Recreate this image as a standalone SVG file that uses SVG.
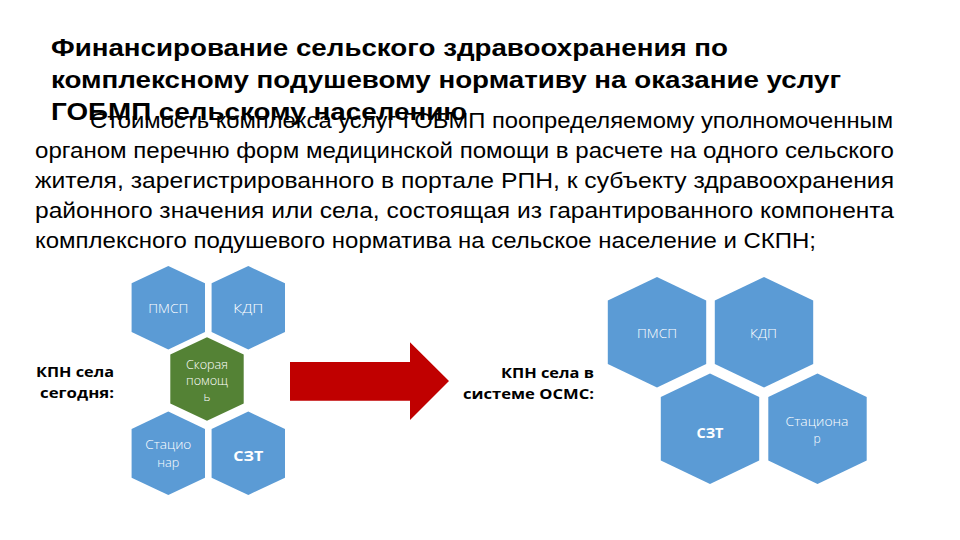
<svg xmlns="http://www.w3.org/2000/svg" xmlns:xlink="http://www.w3.org/1999/xlink" width="960" height="540" viewBox="0 0 960 540">
<style>
.title{font-family:"Liberation Sans",Arial,sans-serif;font-weight:bold;font-size:23.5px;fill:#000}
.body{font-family:"Liberation Sans",Arial,sans-serif;font-size:22px;fill:#000}
.lbl{font-family:"Open Sans","Liberation Sans",sans-serif;font-weight:bold;font-size:15px;fill:#000;text-anchor:end}
.ht{font-family:"Open Sans","Liberation Sans",sans-serif;font-weight:300;font-size:12px;fill:#fff;text-anchor:middle}
.hb{font-family:"Open Sans","Liberation Sans",sans-serif;font-size:15px;font-weight:bold;fill:#fff;text-anchor:middle}
.blue{fill:#5B9BD5}
.green{fill:#548235}
</style>
<defs>
<polygon id="hs" points="0,-41.7 36.7,-24.4 36.7,24.4 0,41.7 -36.7,24.4 -36.7,-24.4"/>
<polygon id="hl" points="0,-55.2 49.2,-31.7 49.2,31.7 0,55.2 -49.2,31.7 -49.2,-31.7"/>
</defs>
<rect width="960" height="540" fill="#fff"/>

<g id="title">
<text class="title" x="51" y="56" textLength="677" lengthAdjust="spacingAndGlyphs">Финансирование сельского здравоохранения по</text>
<text class="title" x="51" y="88" textLength="790" lengthAdjust="spacingAndGlyphs">комплексному подушевому нормативу на оказание услуг</text>
<text class="title" x="51" y="120" textLength="416" lengthAdjust="spacingAndGlyphs">ГОБМП сельскому населению</text>
</g>

<g id="body">
<text class="body" x="90" y="128" textLength="803" lengthAdjust="spacingAndGlyphs">Стоимость комплекса услуг ГОБМП поопределяемому уполномоченным</text>
<text class="body" x="35" y="158" textLength="859" lengthAdjust="spacingAndGlyphs">органом перечню форм медицинской помощи в расчете на одного сельского</text>
<text class="body" x="35" y="188" textLength="859" lengthAdjust="spacingAndGlyphs">жителя, зарегистрированного в портале РПН, к субъекту здравоохранения</text>
<text class="body" x="35" y="218" textLength="859" lengthAdjust="spacingAndGlyphs">районного значения или села, состоящая из гарантированного компонента</text>
<text class="body" x="35" y="248" textLength="781" lengthAdjust="spacingAndGlyphs">комплексного подушевого норматива на сельское население и СКПН;</text>
</g>

<g id="label-today">
<text class="lbl" x="114" y="377" textLength="78" lengthAdjust="spacingAndGlyphs">КПН села</text>
<text class="lbl" x="114" y="398" textLength="74" lengthAdjust="spacingAndGlyphs">сегодня:</text>
</g>
<g id="label-osms">
<text class="lbl" x="594" y="378" textLength="93" lengthAdjust="spacingAndGlyphs">КПН села в</text>
<text class="lbl" x="594" y="399" textLength="131" lengthAdjust="spacingAndGlyphs">системе ОСМС:</text>
</g>

<g id="l-pmsp">
<use xlink:href="#hs" href="#hs" class="blue" x="168.3" y="307.7"/>
<text class="ht" x="168.3" y="313" textLength="40" lengthAdjust="spacingAndGlyphs">ПМСП</text>
</g>
<g id="l-kdp">
<use xlink:href="#hs" href="#hs" class="blue" x="248.3" y="307.7"/>
<text class="ht" x="248.3" y="313" textLength="30" lengthAdjust="spacingAndGlyphs">КДП</text>
</g>
<g id="l-skoraya">
<use xlink:href="#hs" href="#hs" class="green" x="207" y="379"/>
<text class="ht" x="207" y="368.5" textLength="42" lengthAdjust="spacingAndGlyphs">Скорая</text>
<text class="ht" x="207" y="385" textLength="42" lengthAdjust="spacingAndGlyphs">помощ</text>
<text class="ht" x="207" y="401">ь</text>
</g>
<g id="l-stacionar">
<use xlink:href="#hs" href="#hs" class="blue" x="168.3" y="453.3"/>
<text class="ht" x="168.3" y="449" textLength="46" lengthAdjust="spacingAndGlyphs">Стацио</text>
<text class="ht" x="168.3" y="467" textLength="22" lengthAdjust="spacingAndGlyphs">нар</text>
</g>
<g id="l-szt">
<use xlink:href="#hs" href="#hs" class="blue" x="248.3" y="453.3"/>
<text class="hb" x="248.3" y="460.5" textLength="30" lengthAdjust="spacingAndGlyphs">СЗТ</text>
</g>

<g id="connectors">
<polygon points="290,362 410,362 410,342.3 449,381 410,420 410,400.7 290,400.7" fill="#C00000"/>
</g>

<g id="r-pmsp">
<use xlink:href="#hl" href="#hl" class="blue" x="657" y="332.3"/>
<text class="ht" x="657" y="338" textLength="40" lengthAdjust="spacingAndGlyphs">ПМСП</text>
</g>
<g id="r-kdp">
<use xlink:href="#hl" href="#hl" class="blue" x="764" y="332.3"/>
<text class="ht" x="763.5" y="338" textLength="27" lengthAdjust="spacingAndGlyphs">КДП</text>
</g>
<g id="r-szt">
<use xlink:href="#hl" href="#hl" class="blue" x="710" y="428.8"/>
<text class="hb" x="710" y="438" textLength="27" lengthAdjust="spacingAndGlyphs">СЗТ</text>
</g>
<g id="r-stacionar">
<use xlink:href="#hl" href="#hl" class="blue" x="817.5" y="428.8"/>
<text class="ht" x="817" y="426" textLength="63" lengthAdjust="spacingAndGlyphs">Стациона</text>
<text class="ht" x="817" y="443">р</text>
</g>
</svg>
